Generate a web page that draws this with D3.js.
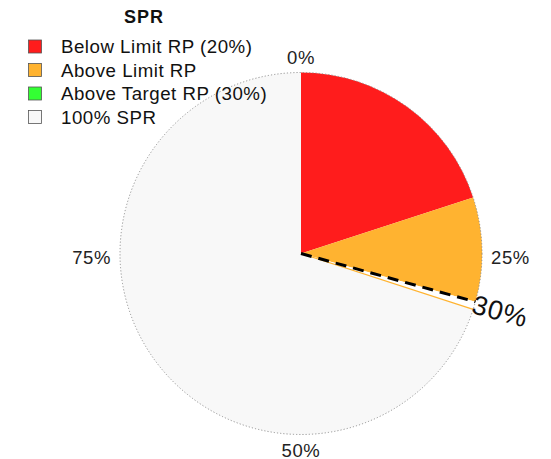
<!DOCTYPE html>
<html><head><meta charset="utf-8">
<script src="https://cdn.jsdelivr.net/npm/d3@7"></script>
<style>body{margin:0;background:#fff}svg{display:block;font-family:"Liberation Sans",Arial,sans-serif}</style>
</head><body><svg id="c" width="551" height="459"></svg>
<script>
const legendTitle = "SPR";
const categories = ["Below Limit RP (20%)", "Above Limit RP", "Above Target RP (30%)", "100% SPR"];
const categoryColors = ["#ff1c1c", "#ffb330", "#33ff33", "#f8f8f8"];
const sliceStart = [0, 20, 30, 30];
const sliceEnd = [20, 29.3, 30, 100];
const currentValue = 29.3;
const targetValue = 30;
const targetLabel = "30%";
const tickValues = [0, 25, 50, 75];
const tickLabels = ["0%", "25%", "50%", "75%"];

const svg = d3.select("#c");
const cx = 301, cy = 253.5, R = 181;
const ang = d3.scaleLinear().domain([0, 100]).range([0, 2 * Math.PI]);
const g = svg.append("g").attr("transform", `translate(${cx},${cy})`);
const arc = d3.arc().innerRadius(0).outerRadius(R);

g.append("path").attr("d", arc({startAngle: 0, endAngle: 2 * Math.PI})).attr("fill", categoryColors[3]);
const sl = categories.map((c, i) => ({s: sliceStart[i], e: sliceEnd[i], col: categoryColors[i]})).slice(0, 3);
g.selectAll("path.sl").data(sl).join("path").attr("class", "sl")
  .attr("d", d => arc({startAngle: ang(d.s), endAngle: ang(d.e)}))
  .attr("fill", d => d.col);
g.append("path").attr("d", arc({startAngle: ang(currentValue), endAngle: ang(targetValue)})).attr("fill", "#ffffff");
const pt = (v, r) => [r * Math.sin(ang(v)), -r * Math.cos(ang(v))];
const tp = pt(targetValue, R);
g.append("line").attr("x1", 0).attr("y1", 0).attr("x2", tp[0]).attr("y2", tp[1])
  .attr("stroke", categoryColors[1]).attr("stroke-width", 1.2);
g.append("circle").attr("r", R).attr("fill", "none").attr("stroke", "#888").attr("stroke-width", 0.9).attr("stroke-dasharray", "1.2,2");
const cp = pt(currentValue, R);
g.append("line").attr("x1", 0).attr("y1", 0).attr("x2", cp[0]).attr("y2", cp[1])
  .attr("stroke", "#000").attr("stroke-width", 3).attr("stroke-dasharray", "11,7");
const rot = ang(currentValue) * 180 / Math.PI - 90;
g.append("text").attr("transform", `translate(${cp[0] - 3},${cp[1] + 4}) rotate(${rot})`)
  .attr("font-size", 27).attr("letter-spacing", 0.8).attr("dominant-baseline", "middle").attr("fill", "#111").text(targetLabel);

const rl = 190, capH = 13;
tickValues.forEach((v, i) => {
  const s = Math.sin(ang(v)), c = Math.cos(ang(v));
  let x = rl * s, y = -rl * c, anchor = "middle";
  if (Math.abs(s) > 0.5) { anchor = s > 0 ? "start" : "end"; y = y + capH / 2 + 4; }
  else if (c > 0) { y = y; }
  else { y = y + capH; }
  g.append("text").attr("x", x).attr("y", y).attr("text-anchor", anchor)
    .attr("font-size", 18.5).attr("letter-spacing", 0.6).attr("fill", "#222").text(tickLabels[i]);
});

svg.append("text").attr("x", 144).attr("y", 23).attr("text-anchor", "middle")
  .attr("font-size", 18).attr("letter-spacing", 1).attr("font-weight", "bold").attr("fill", "#111").text(legendTitle);
const lg = svg.append("g");
categories.forEach((c, i) => {
  const yc = 46.5 + i * 23.5;
  lg.append("rect").attr("x", 28.5).attr("y", yc - 6.5).attr("width", 13).attr("height", 13)
    .attr("fill", categoryColors[i]).attr("stroke", "#555").attr("stroke-width", 0.8);
  lg.append("text").attr("x", 61).attr("y", yc + 6.5).attr("font-size", 18.7).attr("letter-spacing", 0.5).attr("fill", "#111").text(c);
});
</script></body></html>
